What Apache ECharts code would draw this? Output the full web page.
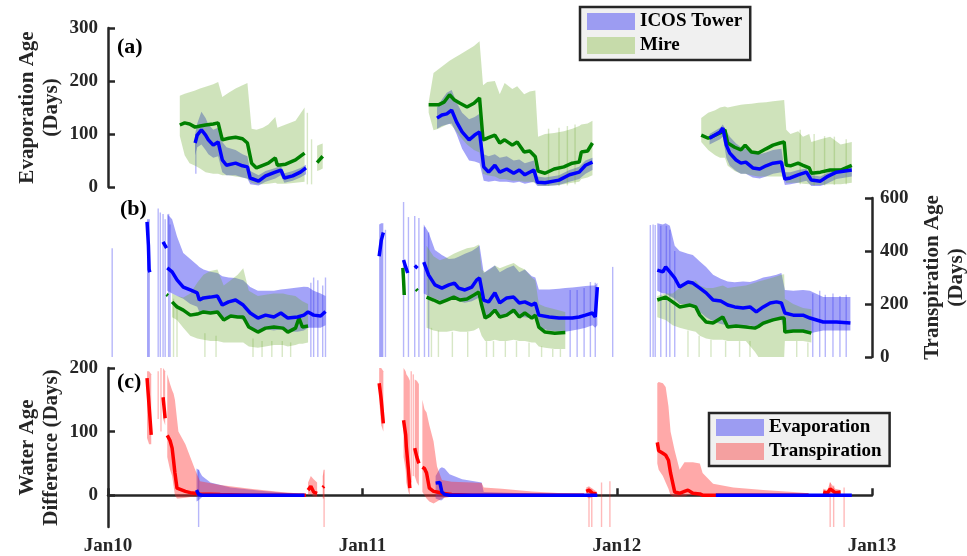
<!DOCTYPE html>
<html><head><meta charset="utf-8">
<script src="https://cdn.jsdelivr.net/npm/echarts@6/dist/echarts.min.js"></script>
<style>html,body{margin:0;padding:0;background:#fff}#c{width:967px;height:556px}</style>
</head><body><div id="c"></div><script>
// ---------- DATA: points are [date, lower, median, upper] ----------
const xTickDates = ['2010-01-01','2011-01-01','2012-01-01','2013-01-01'];
const xTickLabels = ['Jan10','Jan11','Jan12','Jan13'];
const yTicksA = [0,100,200,300];
const yTicksB = [0,200,400,600];
const yTicksC = [0,100,200];

// (a) Evaporation age
const aTower = [
 [['2010-05-06',60,83,100],['2010-05-09',75,98,120],['2010-05-15',80,108,142],['2010-05-21',70,98,130],['2010-05-25',62,89,118],['2010-06-01',55,79,108],['2010-06-08',58,85,112],['2010-06-14',28,51,85],['2010-06-20',22,41,75],['2010-07-03',22,45,70],['2010-07-13',18,40,62],['2010-07-20',16,38,58],['2010-07-24',5,17,30],['2010-08-05',3,11,22],['2010-08-15',10,21,30],['2010-08-29',16,28,36],['2010-09-06',22,32,40],['2010-09-11',8,17,26],['2010-09-23',12,21,30],['2010-10-04',18,28,36],['2010-10-12',24,36,42]],
 [['2011-04-18',110,130,150],['2011-04-25',115,136,165],['2011-05-02',118,138,178],['2011-05-09',120,145,183],['2011-05-16',100,123,160],['2011-05-24',72,104,140],['2011-06-03',50,89,128],['2011-06-11',48,98,132],['2011-06-18',45,104,138],['2011-06-24',12,38,62],['2011-07-01',10,28,58],['2011-07-10',12,41,62],['2011-07-17',10,28,55],['2011-07-27',10,34,58],['2011-08-06',8,26,50],['2011-08-14',10,32,52],['2011-08-22',6,23,45],['2011-09-04',10,32,50],['2011-09-09',2,9,20],['2011-09-20',2,8,18],['2011-10-10',4,13,22],['2011-10-25',10,23,32],['2011-11-08',15,28,38],['2011-11-17',25,41,50],['2011-11-27',32,47,55]],
 [['2012-05-13',80,92,100],['2012-05-28',90,104,112],['2012-06-01',95,111,118],['2012-06-06',55,79,105],['2012-06-11',40,64,95],['2012-06-20',30,51,82],['2012-06-27',25,45,75],['2012-07-04',25,47,72],['2012-07-14',18,36,65],['2012-07-24',16,34,62],['2012-08-02',20,40,65],['2012-08-12',25,45,70],['2012-08-24',28,47,72],['2012-08-29',4,15,28],['2012-09-06',5,17,28],['2012-09-17',8,23,32],['2012-09-29',12,28,35],['2012-10-06',2,13,22],['2012-10-19',2,11,20],['2012-10-28',6,19,26],['2012-11-11',15,28,34],['2012-12-03',20,32,38]]
];
const aMire = [
 [['2010-04-14',96,117,172],['2010-04-21',60,121,176],['2010-04-28',45,119,179],['2010-05-06',40,113,182],['2010-05-13',35,115,186],['2010-05-21',28,117,189],['2010-06-01',25,119,194],['2010-06-08',25,121,198],['2010-06-14',22,89,170],['2010-06-23',22,92,178],['2010-07-03',20,94,186],['2010-07-13',18,91,192],['2010-07-20',15,83,196],['2010-07-26',8,45,110],['2010-08-02',5,36,108],['2010-08-11',5,41,112],['2010-08-19',6,45,118],['2010-08-29',8,55,132],['2010-09-01',6,41,112],['2010-09-13',6,43,118],['2010-09-27',8,51,125],['2010-10-10',10,64,150]],
 [['2010-10-28',30,46,78],['2010-11-01',32,52,80],['2010-11-05',35,58,82]],
 [['2011-04-06',140,155,160],['2011-04-13',107,155,215],['2011-04-20',110,155,222],['2011-04-28',115,160,230],['2011-05-06',120,174,238],['2011-05-13',110,164,244],['2011-05-21',95,158,250],['2011-05-31',80,151,258],['2011-06-10',70,158,266],['2011-06-18',65,168,275],['2011-06-23',25,89,192],['2011-06-29',22,92,198],['2011-07-10',20,98,200],['2011-07-17',15,83,175],['2011-07-24',15,89,196],['2011-08-04',12,79,185],['2011-08-11',12,85,190],['2011-08-21',10,66,175],['2011-08-29',10,68,180],['2011-09-06',8,57,182],['2011-09-10',3,30,95],['2011-09-20',2,26,100],['2011-10-03',3,34,102],['2011-10-17',5,38,105],['2011-10-29',8,45,110],['2011-11-08',10,47,115],['2011-11-11',15,66,118],['2011-11-20',18,68,120],['2011-11-27',22,83,125]],
 [['2012-05-01',85,98,130],['2012-05-11',70,92,140],['2012-05-21',60,98,145],['2012-05-28',55,102,150],['2012-06-04',55,108,152],['2012-06-08',40,83,150],['2012-06-18',30,75,153],['2012-06-27',25,70,155],['2012-07-03',25,79,156],['2012-07-12',22,66,157],['2012-07-22',20,64,159],['2012-08-02',20,72,160],['2012-08-12',20,79,162],['2012-08-22',20,83,163],['2012-08-28',20,85,164],['2012-08-31',8,41,108],['2012-09-06',8,40,100],['2012-09-17',8,45,105],['2012-09-24',6,41,95],['2012-10-03',5,36,100],['2012-10-06',4,26,85],['2012-10-19',4,28,90],['2012-11-02',5,32,95],['2012-11-17',5,32,80],['2012-12-03',8,41,85]]
];
const aTowerSpikes = [['2010-05-07',25,100]];
const aMireSpikes = [['2010-10-14',5,140],['2010-10-20',5,90],['2011-09-25',2,110],['2011-10-10',2,112],['2011-10-22',3,115],['2011-11-02',5,118],['2012-09-20',5,108],['2012-10-10',3,100],['2012-10-25',3,96],['2012-11-08',4,95],['2012-11-25',5,90]];

// (b) Transpiration age
const bTower = [
 [['2010-02-26',0,510,520],['2010-02-28',0,420,520],['2010-03-01',0,330,520],['2010-03-02',0,320,520]],
 [['2010-03-21',null,434,null],['2010-03-26',null,411,null]],
 [['2010-03-27',250,336,540],['2010-04-03',240,321,520],['2010-04-10',230,291,455],['2010-04-19',220,264,392],['2010-04-29',200,253,370],['2010-05-09',190,242,347],['2010-05-12',170,215,340],['2010-05-18',175,223,330],['2010-05-28',170,226,322],['2010-06-07',170,230,317],['2010-06-14',150,196,305],['2010-06-23',150,208,300],['2010-07-03',150,215,298],['2010-07-14',140,196,290],['2010-07-24',110,166,264],['2010-08-04',95,147,250],['2010-08-15',105,158,250],['2010-08-27',100,151,250],['2010-09-06',105,166,255],['2010-09-16',95,147,258],['2010-09-30',95,151,262],['2010-10-09',100,158,265],['2010-10-15',110,170,264],['2010-10-23',110,158,250],['2010-11-02',110,155,240],['2010-11-09',120,172,230]],
 [['2011-01-25',0,380,500],['2011-01-28',0,440,505],['2011-01-31',0,470,505]],
 [['2011-03-01',null,366,null],['2011-03-04',null,340,null],['2011-03-07',null,317,null]],
 [['2011-03-17',null,345,null],['2011-03-21',null,335,null]],
 [['2011-03-30',240,358,500],['2011-04-06',230,309,470],['2011-04-15',220,272,404],['2011-04-25',210,260,385],['2011-05-05',215,272,370],['2011-05-13',220,279,372],['2011-05-19',210,260,378],['2011-05-28',205,253,390],['2011-06-07',210,264,400],['2011-06-14',220,291,412],['2011-06-18',225,298,422],['2011-06-24',160,215,317],['2011-07-01',150,208,330],['2011-07-10',170,242,345],['2011-07-17',150,204,320],['2011-07-27',160,223,335],['2011-08-06',165,226,345],['2011-08-14',150,204,320],['2011-08-22',150,208,330],['2011-09-01',145,196,305],['2011-09-06',150,204,300],['2011-09-11',110,158,255],['2011-09-26',100,151,255],['2011-10-10',95,147,258],['2011-10-19',95,147,260],['2011-10-29',100,147,262],['2011-11-08',105,151,265],['2011-11-17',110,158,268],['2011-11-27',120,166,270],['2011-12-01',110,151,270],['2011-12-04',120,264,280]],
 [['2012-02-28',250,328,505],['2012-03-07',240,321,500],['2012-03-11',240,340,505],['2012-03-17',230,321,495],['2012-03-24',220,298,420],['2012-03-31',200,264,400],['2012-04-12',200,283,390],['2012-04-19',190,279,385],['2012-04-29',170,260,360],['2012-05-08',150,242,340],['2012-05-18',135,215,310],['2012-05-29',125,211,295],['2012-06-08',120,196,285],['2012-06-18',120,189,282],['2012-06-30',115,185,285],['2012-07-10',120,189,283],['2012-07-19',110,170,290],['2012-07-29',120,189,300],['2012-08-08',130,204,305],['2012-08-17',140,208,310],['2012-08-24',140,204,317],['2012-08-29',95,166,253],['2012-09-10',95,158,250],['2012-09-24',95,158,253],['2012-10-04',90,147,250],['2012-10-23',100,132,226],['2012-11-11',100,132,226],['2012-12-01',100,128,226]]
];
const bMire = [
 [['2010-03-26',null,236,null],['2010-03-28',null,232,null]],
 [['2010-04-03',150,208,240],['2010-04-10',140,189,230],['2010-04-19',110,177,225],['2010-04-29',80,158,240],['2010-05-09',70,162,280],['2010-05-18',65,170,310],['2010-05-28',60,166,325],['2010-06-07',60,170,330],['2010-06-16',55,140,270],['2010-06-26',55,155,290],['2010-07-06',55,151,310],['2010-07-14',55,151,335],['2010-07-22',40,113,250],['2010-08-04',35,94,230],['2010-08-15',40,109,235],['2010-08-27',45,113,240],['2010-09-09',45,109,240],['2010-09-16',40,94,235],['2010-09-27',45,109,230],['2010-10-02',50,147,220],['2010-10-07',50,113,210],['2010-10-15',55,117,200]],
 [['2011-02-28',null,336,null],['2011-03-01',null,290,null],['2011-03-02',null,234,null]],
 [['2011-03-19',null,256,null],['2011-03-21',null,250,null]],
 [['2011-04-03',110,226,420],['2011-04-13',100,215,380],['2011-04-22',95,204,365],['2011-05-02',95,215,375],['2011-05-12',100,226,390],['2011-05-21',95,215,400],['2011-05-31',95,219,410],['2011-06-10',100,234,415],['2011-06-17',110,245,425],['2011-06-21',80,196,330],['2011-06-26',60,147,320],['2011-07-03',60,158,330],['2011-07-10',65,177,345],['2011-07-17',60,151,335],['2011-07-27',60,158,345],['2011-08-06',65,177,355],['2011-08-14',60,151,340],['2011-08-22',60,166,330],['2011-09-01',55,147,300],['2011-09-06',55,158,290],['2011-09-11',40,113,200],['2011-09-20',35,94,190],['2011-10-04',30,90,180],['2011-10-19',30,92,170]],
 [['2012-02-28',150,215,230],['2012-03-11',140,226,240],['2012-03-21',120,208,240],['2012-03-31',110,189,260],['2012-04-15',100,196,280],['2012-04-23',95,189,290],['2012-04-29',80,158,270],['2012-05-08',70,132,260],['2012-05-18',65,128,260],['2012-06-01',65,151,270],['2012-06-08',60,113,260],['2012-06-20',60,117,265],['2012-07-04',60,113,270],['2012-07-17',20,109,280],['2012-07-22',0,115,285],['2012-07-29',0,128,290],['2012-08-12',0,140,300],['2012-08-24',0,147,310],['2012-08-28',0,147,312],['2012-08-29',60,94,220],['2012-09-10',60,98,200],['2012-09-24',60,98,185],['2012-10-06',55,90,180]]
];
const bTowerSpikes = [['2010-01-07',0,410],['2010-03-14',0,560],['2010-03-17',0,545],['2010-03-21',0,540],['2010-03-24',0,520],['2010-03-29',0,540],['2010-03-31',0,500],['2010-10-19',0,280],['2010-10-23',0,300],['2010-10-29',0,290],['2010-11-05',0,270],['2010-11-09',0,300],['2011-02-03',0,480],['2011-03-01',0,585],['2011-03-08',0,528],['2011-03-17',0,532],['2011-03-23',0,525],['2011-03-31',0,490],['2011-04-06',0,470],['2011-10-26',0,253],['2011-11-05',0,253],['2011-11-15',0,260],['2011-11-24',0,283],['2011-12-01',0,280],['2011-12-26',0,340],['2012-02-18',0,498],['2012-02-22',0,500],['2012-02-25',0,498],['2012-03-04',0,495],['2012-03-12',0,495],['2012-03-17',0,480],['2012-03-24',0,400],['2012-10-08',0,240],['2012-10-18',0,250],['2012-10-26',0,235],['2012-11-06',0,240],['2012-11-16',0,230],['2012-11-25',0,235]];
const bMireSpikes = [['2010-04-05',0,220],['2010-04-10',0,200],['2010-05-20',0,90],['2010-06-05',0,80],['2010-07-28',0,70],['2010-08-10',0,60],['2010-08-24',0,60],['2010-09-08',0,60],['2010-09-20',0,55],['2011-04-10',0,110],['2011-04-20',0,100],['2011-05-10',0,95],['2011-06-01',0,95],['2011-06-28',0,60],['2011-07-08',0,60],['2011-07-25',0,60],['2011-08-10',0,60],['2011-08-28',0,55],['2011-09-15',0,40],['2011-10-01',0,30],['2011-10-12',0,30],['2012-04-12',0,100],['2012-04-28',0,80],['2012-05-15',0,65],['2012-06-05',0,60],['2012-06-25',0,60],['2012-07-10',0,60],['2012-09-15',0,60],['2012-10-01',0,55]];

// (c) Water age difference
const cEvap = [
 [['2010-05-08',-10,8,42],['2010-05-11',-8,1,40],['2010-05-16',-3,0,30],['2010-05-28',0,0,20],['2010-06-26',0,0,12],['2010-08-08',0,0,7],['2010-09-20',0,0,3],['2010-10-10',0,0,1]],
 [['2011-04-16',-5,19,30],['2011-04-22',-8,20,42],['2011-04-25',-8,5,44],['2011-04-29',-3,1,42],['2011-05-06',-1,0,33],['2011-05-24',0,0,25],['2011-06-21',0,0,20],['2011-06-24',0,0,5],['2011-08-18',0,0,3],['2011-10-15',0,0,1],['2011-11-27',0,0,0.5],['2011-12-04',0,0,0]],
 [['2012-05-22',0,0,3],['2012-07-29',0,0,2],['2012-12-03',0,0,0.5]]
];
const cTrans = [
 [['2010-02-26',90,184,195],['2010-03-01',80,140,195],['2010-03-04',80,95,190]],
 [['2010-03-21',120,154,200],['2010-03-24',110,121,195]],
 [['2010-03-27',60,94,190],['2010-03-31',40,86,175],['2010-04-03',30,74,165],['2010-04-05',15,55,160],['2010-04-07',0,35,150],['2010-04-10',-5,11,120],['2010-04-12',-5,8,100],['2010-04-22',-4,6,80],['2010-04-29',-3,4,60],['2010-05-06',-2,3,40],['2010-05-13',-1,2,22],['2010-06-11',0,1,16],['2010-07-24',0,0,10],['2010-09-06',0,0,5],['2010-10-12',0,0,2]],
 [['2010-10-15',0,8,20],['2010-10-19',2,14,30],['2010-10-23',-2,5,25],['2010-10-28',-3,3,20]],
 [['2010-11-05',-5,12,30],['2010-11-07',-5,14,40]],
 [['2011-01-25',150,176,200],['2011-01-28',110,150,200],['2011-01-31',100,113,195]],
 [['2011-03-01',60,118,200],['2011-03-04',40,95,195],['2011-03-05',20,76,190],['2011-03-08',5,40,185],['2011-03-10',0,11,180]],
 [['2011-03-17',30,74,182],['2011-03-20',20,60,180],['2011-03-23',15,50,175]],
 [['2011-03-28',5,44,150],['2011-03-31',0,42,135],['2011-04-03',-5,35,130],['2011-04-07',-10,11,110],['2011-04-13',-13,6,85],['2011-04-18',-10,5,45],['2011-04-25',-5,3,24],['2011-05-09',-2,1,21],['2011-06-07',0,0,20],['2011-06-21',0,0,19],['2011-06-24',0,0,12],['2011-07-20',0,0,10],['2011-09-01',0,0,6],['2011-10-15',0,0,3],['2011-11-15',0,0,2]],
 [['2011-11-18',-2,6,12],['2011-11-22',-5,8,14],['2011-11-27',-3,3,10],['2011-12-03',-2,2,6]],
 [['2012-02-28',50,83,176],['2012-03-01',40,70,178],['2012-03-07',30,66,176],['2012-03-11',20,63,170],['2012-03-15',10,55,140],['2012-03-18',0,35,100],['2012-03-24',-3,5,70],['2012-03-31',-2,3,40],['2012-04-07',-2,6,52],['2012-04-12',0,8,52],['2012-04-19',0,3,52],['2012-04-29',0,2,50],['2012-05-03',0,0,35],['2012-05-18',0,0,18],['2012-06-16',0,0,12],['2012-07-29',0,0,8],['2012-09-10',0,0,5],['2012-10-02',0,0,3]],
 [['2012-10-23',0,5,10],['2012-10-29',0,3,8],['2012-11-02',-3,10,20],['2012-11-09',0,4,10],['2012-11-17',0,5,8]]
];
const cEvapSpikes = [['2010-05-11',-50,40]];
const cTransSpikes = [['2010-03-14',120,195],['2010-03-18',100,200],['2010-11-07',-50,40],['2011-03-12',20,195],['2011-03-15',30,190],['2011-11-22',-50,12],['2011-11-26',-50,10],['2011-12-10',-50,20],['2011-12-22',-50,22],['2012-11-02',-50,20],['2012-11-07',-50,15],['2012-11-22',-50,12]];

// ---------- CHART ----------
const ts = s => { const [y,m,d] = s.split('-').map(Number); return new Date(y, m-1, d).getTime(); };
const FONT = '"Liberation Serif","Times New Roman",serif';
const AX = '#262626';
const BLUE_BAND = 'rgba(50,50,240,0.45)';
const GREEN_BAND = 'rgba(110,170,50,0.33)';
const RED_BAND = 'rgba(255,40,40,0.40)';
const BLUE_SPIKE = 'rgba(50,50,240,0.35)';
const GREEN_SPIKE = 'rgba(110,170,50,0.28)';
const RED_SPIKE = 'rgba(255,40,40,0.32)';

function bandSeries(name, segs, color, gi) {
  const S = segs.map(s => s.filter(p => p[1] != null && p[3] != null).map(p => [ts(p[0]), p[1], p[3]])).filter(s => s.length > 1);
  return {
    type: 'custom', name, xAxisIndex: gi, yAxisIndex: gi, silent: true, clip: true,
    itemStyle: { color },
    data: S.map((s, i) => [s[0][0], s[s.length-1][0], Math.min(...s.map(p=>p[1])), Math.max(...s.map(p=>p[2])), i]),
    encode: { x: [0, 1], y: [2, 3] },
    renderItem: (params, api) => {
      const s = S[api.value(4)];
      const top = s.map(p => api.coord([p[0], p[2]]));
      const bot = s.slice().reverse().map(p => api.coord([p[0], p[1]]));
      return { type: 'polygon', shape: { points: top.concat(bot) }, style: { fill: color } };
    }
  };
}
function spikeSeries(name, spikes, color, gi) {
  return {
    type: 'custom', name, xAxisIndex: gi, yAxisIndex: gi, silent: true, clip: true,
    itemStyle: { color },
    data: spikes.map(p => [ts(p[0]), p[1], p[2]]),
    encode: { x: 0, y: [1, 2] },
    renderItem: (params, api) => {
      const a = api.coord([api.value(0), api.value(2)]);
      const b = api.coord([api.value(0), api.value(1)]);
      return { type: 'rect', shape: { x: a[0] - 0.7, y: a[1], width: 1.4, height: b[1] - a[1] }, style: { fill: color } };
    }
  };
}
function lineSeries(name, segs, color, gi) {
  const data = [];
  segs.forEach(s => {
    s.forEach(p => { if (p[2] != null) data.push([ts(p[0]), p[2]]); });
    data.push([ts(s[s.length-1][0]) + 3600e3, '-']);
  });
  return { type: 'line', name, xAxisIndex: gi, yAxisIndex: gi, data, symbol: 'none', showSymbol: false,
    connectNulls: false, silent: true, clip: true, lineStyle: { color, width: 3.5 }, itemStyle: { color }, z: 3 };
}

const tickStyle = { inside: true, length: 7, lineStyle: { color: AX, width: 2.5 } };
const labelStyle = { fontFamily: FONT, fontWeight: 'bold', fontSize: 19, color: AX };
const nameStyle = { fontFamily: FONT, fontWeight: 'bold', fontSize: 21, lineHeight: 24, color: AX };
const xMin = ts(xTickDates[0]), xMax = ts(xTickDates[3]);
const xTicks = xTickDates.map(ts);
const xBase = { type: 'value', min: xMin, max: xMax, splitLine: { show: false } };

const option = {
  animation: false,
  backgroundColor: '#fff',
  grid: [
    { left: 108, top: 28, width: 764, height: 159, outerBoundsMode: 'none', containLabel: false },
    { left: 108, top: 198, width: 764, height: 159, outerBoundsMode: 'none', containLabel: false },
    { left: 108, top: 368, width: 764, height: 159, outerBoundsMode: 'none', containLabel: false }
  ],
  xAxis: [
    Object.assign({}, xBase, { gridIndex: 0, show: false }),
    Object.assign({}, xBase, { gridIndex: 1, show: false }),
    Object.assign({}, xBase, { gridIndex: 2,
      axisLine: { lineStyle: { color: AX, width: 2.5 } },
      axisTick: Object.assign({ customValues: xTicks }, tickStyle),
      axisLabel: Object.assign({ customValues: xTicks, margin: 10, showMinLabel: true, showMaxLabel: true,
        formatter: v => { const i = xTicks.findIndex(t => Math.abs(t - v) < 864e5); return i >= 0 ? xTickLabels[i] : ''; } }, labelStyle)
    })
  ],
  yAxis: [
    { gridIndex: 0, type: 'value', min: 0, max: 300, interval: 100, position: 'left',
      axisLine: { show: true, lineStyle: { color: AX, width: 2.5 } }, axisTick: Object.assign({ show: true }, tickStyle),
      axisLabel: Object.assign({ margin: 10 }, labelStyle), splitLine: { show: false },
      name: 'Evaporation Age\n(Days)', nameLocation: 'middle', nameRotate: 90, nameGap: 44, nameMoveOverlap: false, nameTextStyle: nameStyle },
    { gridIndex: 1, type: 'value', min: 0, max: 600, interval: 200, position: 'right',
      axisLine: { show: true, lineStyle: { color: AX, width: 2.5 } }, axisTick: Object.assign({ show: true }, tickStyle),
      axisLabel: Object.assign({ margin: 8 }, labelStyle), splitLine: { show: false },
      name: 'Transpiration Age\n(Days)', nameLocation: 'middle', nameRotate: 90, nameGap: 49, nameMoveOverlap: false, nameTextStyle: nameStyle },
    { gridIndex: 2, type: 'value', min: -50, max: 200, position: 'left',
      axisLine: { show: true, lineStyle: { color: AX, width: 2.5 } },
      axisTick: Object.assign({ show: true, customValues: yTicksC }, tickStyle),
      axisLabel: Object.assign({ margin: 10, customValues: yTicksC }, labelStyle), splitLine: { show: false },
      name: 'Water Age\nDifference (Days)', nameLocation: 'middle', nameRotate: 90, nameGap: 44, nameMoveOverlap: false, nameTextStyle: nameStyle }
  ],
  legend: [
    { orient: 'vertical', left: 580, top: 7, padding: [5, 8, 5, 7], itemGap: 5, itemWidth: 48, itemHeight: 17,
      backgroundColor: '#f0f0f0', borderColor: AX, borderWidth: 2.5, borderRadius: 0, selectedMode: false,
      textStyle: { fontFamily: FONT, fontWeight: 'bold', fontSize: 19, color: '#000' },
      data: [{ name: 'ICOS Tower', icon: 'rect', itemStyle: { color: '#9c9cf2' } }, { name: 'Mire', icon: 'rect', itemStyle: { color: '#c6dbaa' } }] },
    { orient: 'vertical', left: 709, top: 413, padding: [5, 8, 5, 7], itemGap: 5, itemWidth: 48, itemHeight: 17,
      backgroundColor: '#f0f0f0', borderColor: AX, borderWidth: 2.5, borderRadius: 0, selectedMode: false,
      textStyle: { fontFamily: FONT, fontWeight: 'bold', fontSize: 19, color: '#000' },
      data: [{ name: 'Evaporation', icon: 'rect', itemStyle: { color: '#9c9cf2' } }, { name: 'Transpiration', icon: 'rect', itemStyle: { color: '#f4a0a0' } }] }
  ],
  graphic: [
    { type: 'text', left: 117, top: 36, style: { text: '(a)', font: 'bold 22px ' + FONT, fill: '#000' } },
    { type: 'text', left: 120, top: 198, style: { text: '(b)', font: 'bold 22px ' + FONT, fill: '#000' } },
    { type: 'text', left: 117, top: 371, style: { text: '(c)', font: 'bold 22px ' + FONT, fill: '#000' } }
  ],
  series: [
    bandSeries('ICOS Tower', aTower, BLUE_BAND, 0), spikeSeries('ICOS Tower', aTowerSpikes, BLUE_SPIKE, 0),
    bandSeries('Mire', aMire, GREEN_BAND, 0), spikeSeries('Mire', aMireSpikes, GREEN_SPIKE, 0),
    lineSeries('Mire median (a)', aMire, '#008000', 0), lineSeries('ICOS Tower median (a)', aTower, '#0000ff', 0),

    bandSeries('ICOS Tower', bTower, BLUE_BAND, 1), spikeSeries('ICOS Tower', bTowerSpikes, BLUE_SPIKE, 1),
    bandSeries('Mire', bMire, GREEN_BAND, 1), spikeSeries('Mire', bMireSpikes, GREEN_SPIKE, 1),
    lineSeries('Mire median (b)', bMire, '#008000', 1), lineSeries('ICOS Tower median (b)', bTower, '#0000ff', 1),

    bandSeries('Evaporation', cEvap, BLUE_BAND, 2), spikeSeries('Evaporation', cEvapSpikes, BLUE_SPIKE, 2),
    bandSeries('Transpiration', cTrans, RED_BAND, 2), spikeSeries('Transpiration', cTransSpikes, RED_SPIKE, 2),
    lineSeries('Transpiration median', cTrans, '#ff0000', 2), lineSeries('Evaporation median', cEvap, '#0000ff', 2)
  ]
};
const chart = echarts.init(document.getElementById('c'), null, { renderer: 'canvas' });
chart.setOption(option);
</script></body></html>
